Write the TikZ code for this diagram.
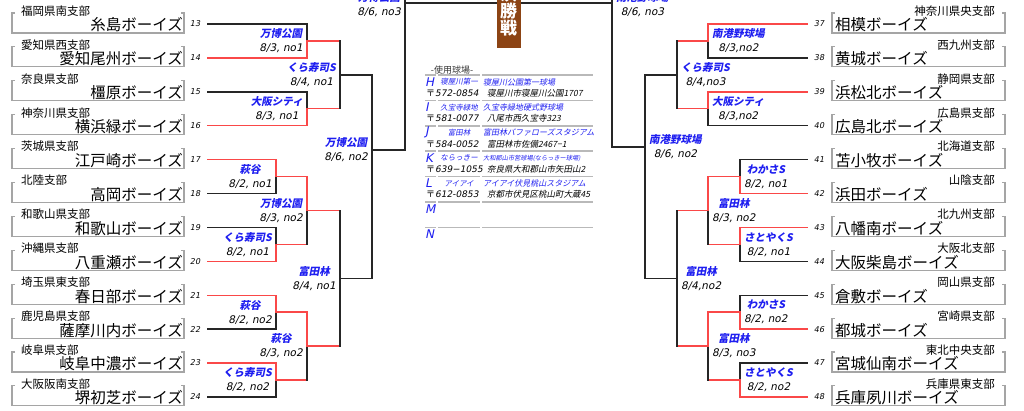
\documentclass[tikz,border=0pt]{standalone}
\usepackage{fontspec}
\setmainfont{Noto Sans CJK JP}
\newfontfamily\jpslant{Noto Sans CJK JP}[FakeSlant=0.2]
\newfontfamily\datefont{DejaVu Sans}[FakeSlant=0.2]
\usetikzlibrary{calc}

\definecolor{winred}{RGB}{250,72,72}
\definecolor{siteblue}{RGB}{30,30,240}
\definecolor{boxgray}{RGB}{165,165,165}
\definecolor{rulegray}{RGB}{185,185,185}
\definecolor{finalbrown}{RGB}{140,68,20}

\newcommand{\sitefmt}[1]{{\color{siteblue}\jpslant\bfseries #1}}
\newcommand{\datefmt}[1]{{\datefont #1}}
\newcommand{\bracketarm}[4]{%
  \draw[#3] (#1) -- (#1 -| #2);
  \draw[#4] (#1 -| #2) -- (#2);}

\begin{document}
\begin{tikzpicture}[x=1pt, y=-1pt,
    lose/.style={draw=black!85, line width=1.4pt, line cap=rect},
    win/.style={draw=winred, line width=1.4pt, line cap=rect},
    teambox/.style={draw=boxgray, line width=1.1pt},
    pref/.style={inner sep=0pt, font=\fontsize{11.5}{12}\selectfont},
    team/.style={inner sep=0pt, font=\fontsize{15.5}{16}\selectfont},
    seed/.style={inner sep=0pt, font=\datefont\fontsize{8}{9}\selectfont},
    lblL/.style={anchor=east, align=center, inner sep=0pt, font=\fontsize{10.5}{14}\selectfont},
    lblR/.style={anchor=west, align=center, inner sep=0pt, font=\fontsize{10.5}{14}\selectfont},
    vrule/.style={draw=rulegray, line width=1.5pt},
    vtitle/.style={inner sep=0pt, text=black!80, font=\fontsize{9}{10}\selectfont},
    vkey/.style={anchor=west, inner sep=0pt, text=siteblue, font=\datefont\fontsize{12}{13}\selectfont},
    vabbr/.style={inner sep=0pt, text=siteblue, font=\jpslant\fontsize{7.5}{8}\selectfont},
    vfull/.style={anchor=west, inner sep=0pt, text=siteblue, font=\jpslant\fontsize{8}{9}\selectfont},
    vzip/.style={anchor=west, inner sep=0pt, font=\fontsize{9}{10}\selectfont},
    vaddr/.style={anchor=west, inner sep=0pt, font=\jpslant\fontsize{8.5}{9}\selectfont}]

\useasboundingbox (0,0) rectangle (1024,410);
\clip (0,0) rectangle (1024,410);

% teams, left block
\foreach \num/\pref/\team [count=\i from 0] in {13/福岡県南支部/糸島ボーイズ, 14/愛知県西支部/愛知尾州ボーイズ,
    15/奈良県支部/橿原ボーイズ, 16/神奈川県支部/横浜緑ボーイズ, 17/茨城県支部/江戸崎ボーイズ,
    18/北陸支部/高岡ボーイズ, 19/和歌山県支部/和歌山ボーイズ, 20/沖縄県支部/八重瀬ボーイズ,
    21/埼玉県東支部/春日部ボーイズ, 22/鹿児島県支部/薩摩川内ボーイズ, 23/岐阜県支部/岐阜中濃ボーイズ,
    24/大阪阪南支部/堺初芝ボーイズ}{
  \pgfmathsetmacro{\ty}{24+33.9*\i}
  \draw[teambox] (15,\ty-11) -- (12,\ty-11) -- (12,\ty+9) -- (184,\ty+9) -- (184,\ty-11) -- (181,\ty-11);
  \node[pref, anchor=west] (pf\num) at (21,\ty-13) {\pref};
  \node[team, anchor=east] (tm\num) at (183,\ty+1) {\team};
  \node[seed] (sd\num) at (195,\ty) {\num};
  \coordinate (t\num) at (208,\ty);
}

% teams, right block
\foreach \num/\pref/\team [count=\i from 0] in {37/神奈川県央支部/相模ボーイズ, 38/西九州支部/黄城ボーイズ,
    39/静岡県支部/浜松北ボーイズ, 40/広島県支部/広島北ボーイズ, 41/北海道支部/苫小牧ボーイズ,
    42/山陰支部/浜田ボーイズ, 43/北九州支部/八幡南ボーイズ, 44/大阪北支部/大阪柴島ボーイズ,
    45/岡山県支部/倉敷ボーイズ, 46/宮崎県支部/都城ボーイズ, 47/東北中央支部/宮城仙南ボーイズ,
    48/兵庫県東支部/兵庫夙川ボーイズ}{
  \pgfmathsetmacro{\ty}{24+33.9*\i}
  \draw[teambox] (835,\ty-11) -- (832,\ty-11) -- (832,\ty+9) -- (1005,\ty+9) -- (1005,\ty-11) -- (1002,\ty-11);
  \node[pref, anchor=east] (pf\num) at (995,\ty-13) {\pref};
  \node[team, anchor=west] (tm\num) at (835,\ty+1) {\team};
  \node[seed] (sd\num) at (819,\ty) {\num};
  \coordinate (t\num) at (807,\ty);
}

% match points
\coordinate (L1) at (307,40.95);  \coordinate (L2) at (307,108.75);
\coordinate (L3) at (340,74.85);
\coordinate (L4) at (276,176.55); \coordinate (L5) at (276,244.35);
\coordinate (L6) at (307,210.45);
\coordinate (L7) at (276,312.15); \coordinate (L8) at (276,379.95);
\coordinate (L9) at (307,346.05);
\coordinate (L10) at (340,278.25);
\coordinate (L11) at (372,150);
\coordinate (LF) at (405,3);      \coordinate (LT) at (405,-10);

\coordinate (R1) at (708,40.95);  \coordinate (R2) at (708,108.75);
\coordinate (R3) at (677,74.85);
\coordinate (R4) at (740,176.55); \coordinate (R5) at (740,244.35);
\coordinate (R6) at (708,210.45);
\coordinate (R7) at (740,312.15); \coordinate (R8) at (740,379.95);
\coordinate (R9) at (708,346.05);
\coordinate (R10) at (677,278.25);
\coordinate (R11) at (645,147);
\coordinate (RF) at (612,3);      \coordinate (RT) at (612,-10);

% left bracket
\bracketarm{t13}{L1}{lose}{lose}
\bracketarm{t14}{L1}{win}{win}
\bracketarm{t15}{L2}{lose}{lose}
\bracketarm{t16}{L2}{win}{win}
\bracketarm{L1}{L3}{win}{lose}
\bracketarm{L2}{L3}{win}{lose}
\bracketarm{t18}{L4}{lose}{lose}
\bracketarm{t17}{L4}{win}{win}
\bracketarm{t19}{L5}{lose}{lose}
\bracketarm{t20}{L5}{win}{win}
\bracketarm{L5}{L6}{win}{lose}
\bracketarm{L4}{L6}{win}{win}
\bracketarm{t22}{L7}{lose}{lose}
\bracketarm{t21}{L7}{win}{win}
\bracketarm{t24}{L8}{lose}{lose}
\bracketarm{t23}{L8}{win}{win}
\bracketarm{L8}{L9}{win}{lose}
\bracketarm{L7}{L9}{win}{win}
\bracketarm{L6}{L10}{win}{lose}
\bracketarm{L9}{L10}{win}{lose}
\bracketarm{L3}{L11}{lose}{lose}
\bracketarm{L10}{L11}{lose}{lose}
\bracketarm{L11}{LF}{lose}{lose}

% right bracket
\bracketarm{t38}{R1}{lose}{lose}
\bracketarm{t37}{R1}{win}{win}
\bracketarm{t40}{R2}{lose}{lose}
\bracketarm{t39}{R2}{win}{win}
\bracketarm{R1}{R3}{win}{lose}
\bracketarm{R2}{R3}{win}{lose}
\bracketarm{t41}{R4}{lose}{lose}
\bracketarm{t42}{R4}{win}{win}
\bracketarm{t44}{R5}{lose}{lose}
\bracketarm{t43}{R5}{win}{win}
\bracketarm{R5}{R6}{win}{lose}
\bracketarm{R4}{R6}{win}{win}
\bracketarm{t45}{R7}{lose}{lose}
\bracketarm{t46}{R7}{win}{win}
\bracketarm{t47}{R8}{lose}{lose}
\bracketarm{t48}{R8}{win}{win}
\bracketarm{R8}{R9}{win}{lose}
\bracketarm{R7}{R9}{win}{win}
\bracketarm{R6}{R10}{win}{lose}
\bracketarm{R9}{R10}{win}{lose}
\bracketarm{R3}{R11}{lose}{lose}
\bracketarm{R10}{R11}{lose}{lose}
\bracketarm{R11}{RF}{lose}{lose}

% final
\draw[lose] (LT) -- (LF);
\draw[lose] (RT) -- (RF);
\draw[lose] (LF) -- (RF);
\node[fill=finalbrown, minimum width=24pt, minimum height=60pt, inner sep=0pt] (finalbox) at (508.5,18) {};
\node[text=white, align=center, inner sep=0pt, font=\bfseries\fontsize{17}{17}\selectfont] (finalname) at (508.5,11) {決\\勝\\戦};

% venues and dates
\foreach \m/\site/\day in {L1/万博公園/{8/3, no1}, L2/大阪シティ/{8/3, no1}, L3/くら寿司S/{8/4, no1},
    L4/萩谷/{8/2, no1}, L5/くら寿司S/{8/2, no1}, L6/万博公園/{8/3, no2}, L7/萩谷/{8/2, no2},
    L8/くら寿司S/{8/2, no2}, L9/萩谷/{8/3, no2}, L10/富田林/{8/4, no1}, L11/万博公園/{8/6, no2}}
  \node[lblL] (lb\m) at ($(\m)+(-4,0)$) {\sitefmt{\site}\\\datefmt{\day}};
\node[lblL] (lbLF) at ($(LF)+(-4,2)$) {\sitefmt{万博公園}\\\datefmt{8/6, no3}};
\foreach \m/\site/\day in {R1/南港野球場/{8/3,no2}, R2/大阪シティ/{8/3,no2}, R3/くら寿司S/{8/4,no3},
    R4/わかさS/{8/2, no1}, R5/さとやくS/{8/2, no1}, R6/富田林/{8/3, no2}, R7/わかさS/{8/2, no2},
    R8/さとやくS/{8/2, no2}, R9/富田林/{8/3, no3}, R10/富田林/{8/4,no2}, R11/南港野球場/{8/6, no2}}
  \node[lblR] (lb\m) at ($(\m)+(4,0)$) {\sitefmt{\site}\\\datefmt{\day}};
\node[lblR] (lbRF) at ($(RF)+(4,2)$) {\sitefmt{南港野球場}\\\datefmt{8/6, no3}};

% grounds list
\node[vtitle] (vtitle) at (452,70) {-使用球場-};
\foreach \r in {0,...,6}{
  \pgfmathsetmacro{\sy}{75+25.4*\r}
  \draw[vrule] (425,\sy) -- (436,\sy);
  \draw[vrule] (438,\sy) -- (480,\sy);
  \draw[vrule] (482,\sy) -- (593,\sy);
}
\foreach \vlet/\abbr/\full/\zip/\addr [count=\j from 0] in {
    H/寝屋川第一/寝屋川公園第一球場/572-0854/寝屋川市寝屋川公園1707,
    I/久宝寺緑地/久宝寺緑地硬式野球場/581-0077/八尾市西久宝寺323,
    J/富田林/富田林バファローズスタジアム/584-0052/富田林市佐備2467−1,
    K/ならっきー/{\fontsize{6.2}{7}\selectfont 大和郡山市営球場(ならっきー球場)}/639−1055/奈良県大和郡山市矢田山2,
    L/アイアイ/アイアイ伏見桃山スタジアム/612-0853/京都市伏見区桃山町大蔵45}{
  \pgfmathsetmacro{\vy}{82+25.4*\j}
  \node[vkey] (vk\vlet) at (425,\vy) {\vlet};
  \node[vabbr] (va\vlet) at (459,\vy) {\abbr};
  \node[vfull] (vf\vlet) at (483,\vy) {\full};
  \node[vzip] (vz\vlet) at (426,\vy+11) {〒{\datefont\zip}};
  \node[vaddr] (vd\vlet) at (487,\vy+11) {\addr};
}
\node[vkey] (vkM) at (425,209) {M};
\node[vkey] (vkN) at (425,234.4) {N};
\end{tikzpicture}
\end{document}
